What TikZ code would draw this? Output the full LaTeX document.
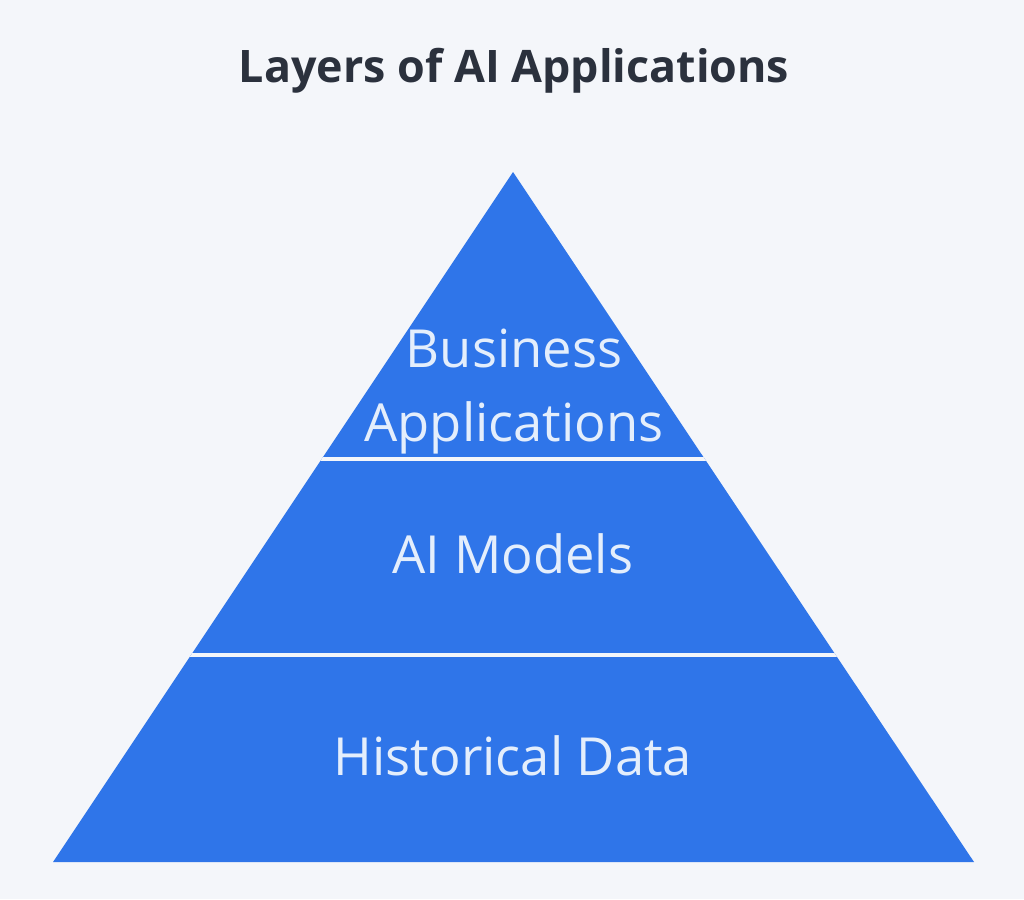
\documentclass[tikz,border=0pt]{standalone}
\usepackage{fontspec}
\setmainfont{Open Sans}[Ligatures=NoCommon]
\definecolor{bg}{HTML}{F4F6FA}
\definecolor{pyr}{HTML}{2F75E9}
\definecolor{lbl}{HTML}{E4EEFC}
\definecolor{ttl}{HTML}{2B313D}
\begin{document}
\begin{tikzpicture}[x=1pt,y=-1pt,
  layertext/.style={text=lbl,anchor=base,inner sep=0pt,font=\fontsize{52.5}{60}\selectfont},
  sep/.style={draw=bg,line width=3.5pt}]
\fill[bg] (0,0) rectangle (1024,899);
\useasboundingbox (0,0) rectangle (1024,899);
\coordinate (apex) at (513,172);
\coordinate (bl) at (53,862);
\coordinate (br) at (974,862);
\fill[pyr] (apex) -- (bl) -- (br) -- cycle;
\begin{scope}
\clip (apex) -- (bl) -- (br) -- cycle;
\coordinate (s1l) at (0,459);
\coordinate (s1r) at (1024,459);
\coordinate (s2l) at (0,655);
\coordinate (s2r) at (1024,655);
\draw[sep] (s1l) -- (s1r);
\draw[sep] (s2l) -- (s2r);
\end{scope}
\node[anchor=base,inner sep=0pt,text=ttl,font=\fontsize{44.8}{52}\selectfont\bfseries] (title) at (514,82) {Layers of AI Applications};
\node[layertext] (biz) at (514,367) {Business};
\node[layertext] (app) at (514,441) {Applications};
\node[layertext] (ai) at (513,573) {AI Models};
\node[layertext] (hist) at (513,775) {Historical Data};
\end{tikzpicture}
\end{document}
